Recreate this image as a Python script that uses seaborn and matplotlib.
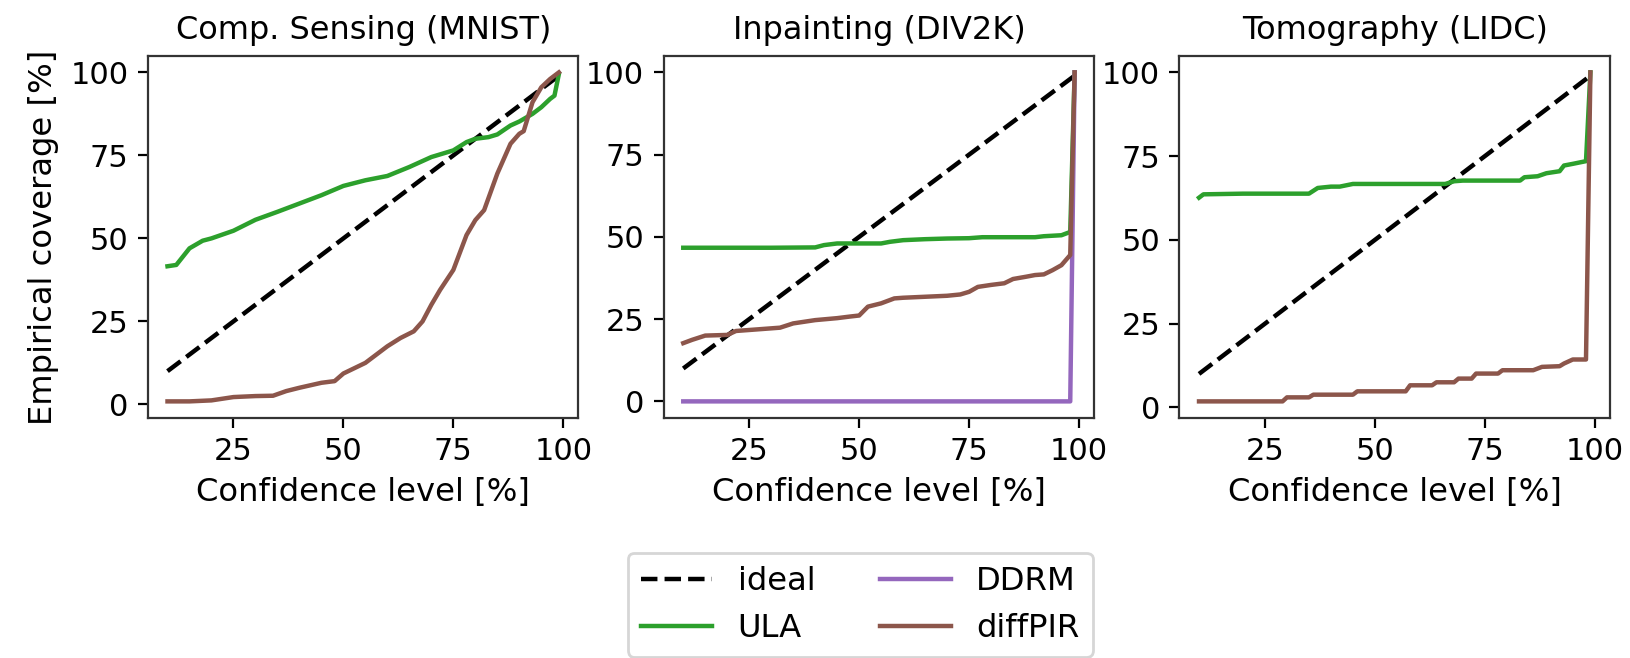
import matplotlib
matplotlib.use("Agg")
import matplotlib.pyplot as plt
import seaborn as sns

# Coverage curves
TITLES = ["Comp. Sensing (MNIST)", "Inpainting (DIV2K)", "Tomography (LIDC)"]

ideal_x = [10, 99]
ideal_y = [10, 99]

# Comp. Sensing (MNIST)
mnist_ula_x = [10, 12, 15, 18, 20, 25, 30, 35, 40, 45, 50, 55, 60, 65, 70, 75, 78,
               80, 83, 85, 88, 90, 93, 95, 97, 98, 99]
mnist_ula_y = [41.6, 42.0, 47.0, 49.3, 50.0, 52.3, 55.6, 58.0, 60.5, 63.0, 65.8, 67.5,
               68.8, 71.5, 74.5, 76.5, 79.0, 80.0, 80.5, 81.3, 84.0, 85.2, 87.5, 89.5,
               92.0, 93.0, 99.5]
mnist_diffpir_x = [10, 15, 20, 25, 30, 34, 37, 40, 45, 48, 50, 55, 58, 60, 63, 66, 68,
                   70, 72, 75, 78, 80, 82, 85, 88, 90, 91, 93, 95, 97, 99]
mnist_diffpir_y = [0.9, 0.9, 1.2, 2.2, 2.5, 2.6, 4.0, 5.0, 6.5, 7.0, 9.3, 12.5, 15.5,
                   17.5, 20.0, 22.0, 25.0, 30.0, 34.5, 40.5, 51.0, 55.5, 58.5, 69.5,
                   78.5, 81.5, 82.3, 91.0, 95.5, 98.0, 100.0]

# Inpainting (DIV2K)
div2k_ula_x = [10, 20, 30, 40, 42, 45, 50, 55, 57, 60, 65, 70, 75, 78, 90, 92, 96, 98, 99]
div2k_ula_y = [46.7, 46.7, 46.7, 46.8, 47.5, 48.0, 48.0, 48.0, 48.5, 49.0, 49.3, 49.5,
               49.6, 49.9, 49.9, 50.2, 50.5, 51.5, 100.0]
div2k_ddrm_x = [10, 98, 99]
div2k_ddrm_y = [0.0, 0.0, 100.0]
div2k_diffpir_x = [10, 12, 15, 20, 22, 25, 30, 32, 35, 40, 45, 48, 50, 52, 55, 58, 60,
                   65, 70, 73, 75, 77, 80, 83, 85, 88, 90, 92, 94, 96, 98, 99]
div2k_diffpir_y = [17.7, 18.7, 20.0, 20.2, 21.4, 21.7, 22.2, 22.4, 23.7, 24.7, 25.3,
                   25.8, 26.1, 28.8, 29.8, 31.3, 31.5, 31.8, 32.1, 32.5, 33.3, 34.8,
                   35.4, 35.9, 37.2, 37.9, 38.4, 38.6, 39.9, 41.4, 44.5, 100.0]

# Tomography (LIDC)
lidc_ula_x = [10, 11, 20, 30, 35, 37, 40, 42, 45, 50, 60, 66, 68, 70, 80, 83, 84, 87,
              89, 92, 93, 95, 98, 99]
lidc_ula_y = [62.6, 63.6, 63.8, 63.8, 63.8, 65.5, 65.9, 65.9, 66.7, 66.7, 66.7, 66.7,
              67.5, 67.7, 67.7, 67.7, 68.7, 69.0, 69.9, 70.5, 72.2, 72.7, 73.5, 100.0]
lidc_diffpir_x = [10, 29, 30, 35, 36, 45, 46, 57, 58, 63, 64, 68, 69, 72, 73, 78, 79,
                  86, 88, 92, 93, 95, 98, 99]
lidc_diffpir_y = [1.8, 1.8, 3.0, 3.0, 3.8, 3.8, 4.8, 4.8, 6.6, 6.6, 7.5, 7.5, 8.6, 8.6,
                  10.1, 10.1, 11.1, 11.1, 12.1, 12.3, 13.1, 14.3, 14.3, 100.0]

panels = [
    {"ULA": (mnist_ula_x, mnist_ula_y), "diffPIR": (mnist_diffpir_x, mnist_diffpir_y)},
    {"ULA": (div2k_ula_x, div2k_ula_y), "DDRM": (div2k_ddrm_x, div2k_ddrm_y),
     "diffPIR": (div2k_diffpir_x, div2k_diffpir_y)},
    {"ULA": (lidc_ula_x, lidc_ula_y), "diffPIR": (lidc_diffpir_x, lidc_diffpir_y)},
]

COLORS = {"ULA": "tab:green", "DDRM": "tab:purple", "diffPIR": "tab:brown"}
LW = 1.6

plt.rcParams["font.family"] = ["DejaVu Sans"]
plt.rcParams["font.size"] = 11.5

fig, axes = plt.subplots(1, 3, figsize=(8.155, 3.29), dpi=200)
fig.subplots_adjust(left=0.0907, right=0.9871, top=0.915, bottom=0.365, wspace=0.198)

for ax, title, series in zip(axes, TITLES, panels):
    sns.lineplot(x=ideal_x, y=ideal_y, ax=ax, color="black", linestyle="--",
                 linewidth=LW, label="ideal", estimator=None, sort=False)
    for name in ["ULA", "DDRM", "diffPIR"]:
        if name not in series:
            continue
        xs, ys = series[name]
        sns.lineplot(x=xs, y=ys, ax=ax, color=COLORS[name], linewidth=LW,
                     label=name, estimator=None, sort=False)
    ax.set_title(title, fontsize=11.5)
    ax.set_xlabel("Confidence level [%]", fontsize=11.6)
    ax.set_xticks([25, 50, 75, 100])
    ax.set_yticks([0, 25, 50, 75, 100])
    ax.tick_params(labelsize=11)
    for sp in ax.spines.values():
        sp.set_edgecolor("#333333")
    ax.get_legend().remove()

axes[0].set_ylabel("Empirical coverage [%]", fontsize=11.6)

handles, labels = axes[1].get_legend_handles_labels()
fig.legend(handles, labels, loc="upper left", ncol=2, fontsize=11.6,
           handlelength=2.2, borderaxespad=0,
           bbox_to_anchor=(628 / 1631, 1 - 553 / 658))

fig.savefig("out.png", dpi=200)
